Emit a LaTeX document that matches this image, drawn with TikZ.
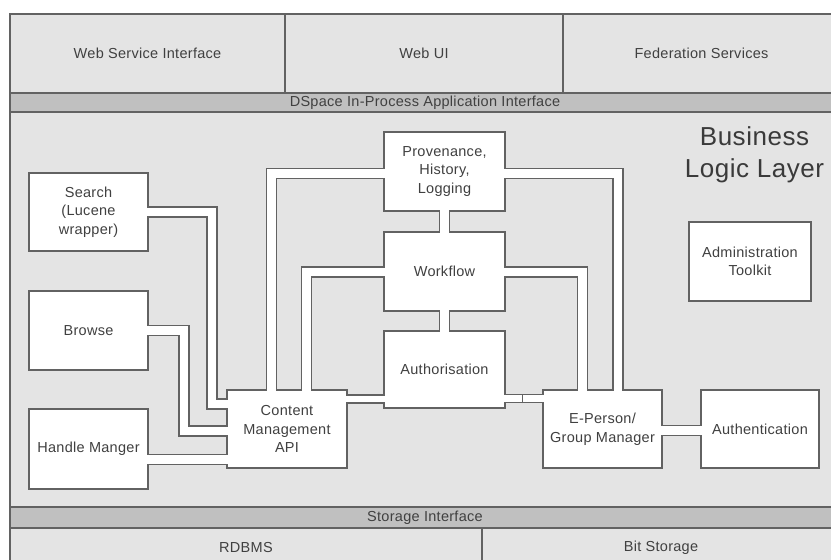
\documentclass[tikz,border=0pt]{standalone}
\usepackage{fontspec}
\setmainfont{Liberation Sans}[LetterSpace=2]
\definecolor{layerfill}{HTML}{E4E4E4}
\definecolor{bandfill}{HTML}{C0C0C0}
\definecolor{edge}{HTML}{626262}
\definecolor{ink}{HTML}{404040}
\begin{document}
\begin{tikzpicture}[x=1pt,y=-1pt,
  txt/.style={font=\fontsize{14.5}{18.5}\selectfont, text=ink, align=center, inner sep=0pt, outer sep=0pt},
  frame/.style={draw=edge, line width=1.6pt},
  module/.style={txt, draw=edge, line width=1.6pt, fill=white},
  pipe/.style={draw=edge, line width=1.4pt, double=white, double distance=8.6pt,
               line join=miter, shorten <=-0.9pt, shorten >=-0.9pt},
  thinpipe/.style={pipe, double distance=6.8pt},
]
\useasboundingbox (0,0) rectangle (831,560);
\clip (0,0) rectangle (831,560);

% layered frame, running off the right and bottom edges
\fill[layerfill] (10,14) rectangle (880,590);
\fill[bandfill] (10,93) rectangle (880,112);
\fill[bandfill] (10,507) rectangle (880,528);
\draw[frame] (880,14) -- (10,14) -- (10,590);
\foreach \yy in {93,112,507,528} \draw[frame] (10,\yy) -- (880,\yy);
\draw[frame] (285,14) -- (285,93);
\draw[frame] (563,14) -- (563,93);
\draw[frame] (482,528) -- (482,590);

\node[txt] (wsi)   at (147.5,53.5) {Web Service Interface};
\node[txt] (webui) at (424,53.5)   {Web UI};
\node[txt] (fed)   at (701.5,53.5) {Federation Services};
\node[txt] (api)   at (425,102.5)  {DSpace In-Process Application Interface};
\node[txt] (store) at (425,517.5)  {Storage Interface};
\node[txt] (rdbms) at (246,548)    {RDBMS};
\node[txt] (bits)  at (661,548)    {Bit Storage};

\node[txt, font=\fontsize{26}{32}\selectfont, anchor=north, text=ink!90!black]
  (title) at (754.5,127) {Business\\Logic Layer};

% business logic modules
\node[module, minimum width=119pt, minimum height=78pt] (search)  at (88.5,212)   {Search\\(Lucene\\wrapper)};
\node[module, minimum width=119pt, minimum height=79pt] (browse)  at (88.5,330.5) {Browse};
\node[module, minimum width=119pt, minimum height=80pt] (handle)  at (88.5,449)   {Handle Manger};
\node[module, minimum width=120pt, minimum height=78pt] (cm)      at (287,429)    {Content\\Management\\API};
\node[module, minimum width=121pt, minimum height=79pt] (prov)    at (444.5,171.5){Provenance,\\History,\\Logging};
\node[module, minimum width=121pt, minimum height=79pt] (work)    at (444.5,271.5){Workflow};
\node[module, minimum width=121pt, minimum height=77pt] (auth)    at (444.5,369.5){Authorisation};
\node[module, minimum width=119pt, minimum height=78pt] (eperson) at (602.5,429)  {E-Person/\\Group Manager};
\node[module, minimum width=118pt, minimum height=78pt] (authn)   at (760,429)    {Authentication};
\node[module, minimum width=122pt, minimum height=79pt] (admin)   at (750,261.5)  {Administration\\Toolkit};

% pipes between modules
\draw[pipe] (search.east) -| (212,404) -- (cm.west |- 0,404);
\draw[pipe] (browse.east) -| (184,431) -- (cm.west |- 0,431);
\draw[pipe] (handle.east |- 0,459.5) -- (cm.west |- 0,459.5);
\draw[pipe] (cm.north -| 271.5,0) |- (prov.west |- 0,173.5);
\draw[pipe] (cm.north -| 306.5,0) |- (work.west |- 0,272);
\draw[thinpipe] (cm.east |- 0,399) -- (auth.west |- 0,399);
\draw[thinpipe] (auth.east |- 0,398.5) -- (eperson.west |- 0,398.5);
\coordinate (joint) at (522.5,398.5);
\draw[edge, line width=1.4pt] ([yshift=-4.5pt]joint) -- ([yshift=4.5pt]joint);
\draw[pipe] (prov.east |- 0,173.5) -| (eperson.north -| 618,0);
\draw[pipe] (work.east |- 0,272) -| (eperson.north -| 582.5,0);
\draw[pipe] (prov.south) -- (work.north);
\draw[pipe] (work.south) -- (auth.north);
\draw[pipe] (eperson.east |- 0,430.5) -- (authn.west |- 0,430.5);
\end{tikzpicture}
\end{document}
